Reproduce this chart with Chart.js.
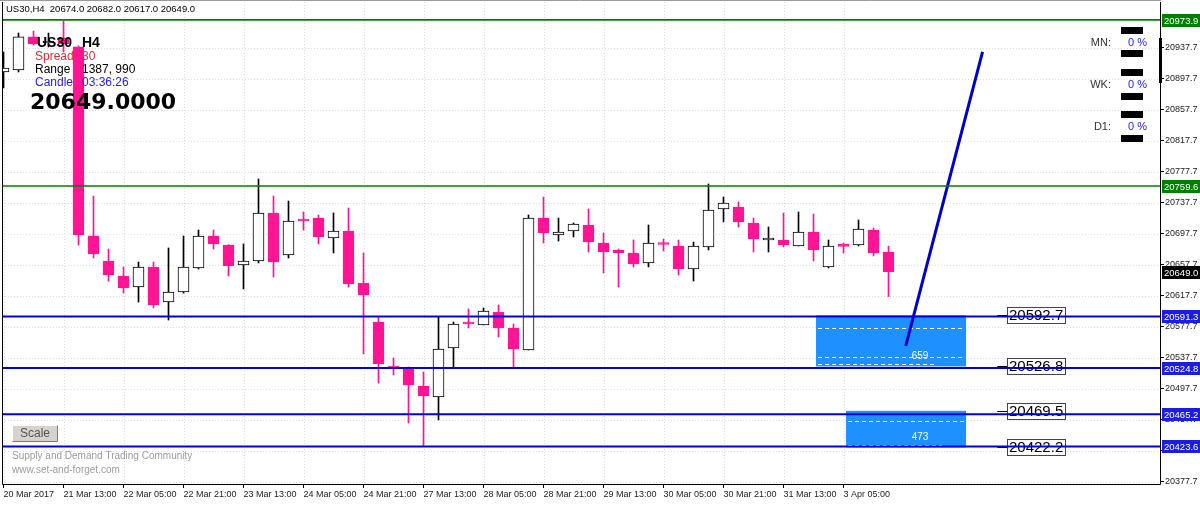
<!DOCTYPE html>
<html>
<head>
<meta charset="utf-8">
<title>US30 H4</title>
<script src="https://cdn.jsdelivr.net/npm/chart.js@4.4.0/dist/chart.umd.min.js"></script>
<style>
    html, body { margin: 0; padding: 0; background: #fff; overflow: hidden; }
    #wrap { position: relative; width: 1200px; height: 505px; }
</style>
</head>
<body>
<div id="wrap"><canvas id="chart"></canvas></div>
<script>
// H4 candles, one entry per bar
const opens = [20906.7, 20909.3, 20951.9, 20944.1, 20950.6, 20939.0, 20695.1, 20662.8, 20643.5, 20629.3,
    20655.1, 20609.9, 20622.8, 20653.8, 20695.1, 20683.5, 20657.7, 20662.8, 20724.8, 20670.6,
    20717.0, 20718.3, 20692.5, 20701.5, 20634.4, 20584.1, 20527.4, 20523.5, 20501.5, 20487.3,
    20550.6, 20584.1, 20580.3, 20597.0, 20576.4, 20548.0, 20718.3, 20696.4, 20701.5, 20709.3,
    20686.1, 20677.0, 20673.2, 20660.3, 20685.4, 20682.2, 20652.5, 20680.9, 20729.9, 20732.5,
    20711.9, 20689.9, 20689.9, 20682.2, 20700.3, 20655.1, 20682.8, 20683.5, 20702.8, 20674.0];
const highs = [20932.5, 20957.0, 20959.6, 20957.0, 20972.5, 20940.5, 20746.7, 20678.3, 20655.1, 20661.5,
    20661.5, 20679.6, 20695.1, 20702.8, 20702.8, 20684.0, 20684.8, 20768.6, 20746.7, 20740.2,
    20726.1, 20722.2, 20724.8, 20731.2, 20673.2, 20590.6, 20537.7, 20526.1, 20519.6, 20590.6,
    20584.1, 20600.9, 20602.2, 20606.1, 20581.5, 20722.2, 20745.4, 20718.3, 20711.9, 20729.9,
    20699.0, 20678.3, 20689.9, 20709.3, 20691.2, 20689.9, 20687.3, 20762.2, 20745.4, 20739.0,
    20718.3, 20706.7, 20724.8, 20726.1, 20723.5, 20689.9, 20686.1, 20715.7, 20705.4, 20682.0];
const lows = [20886.1, 20906.7, 20941.5, 20939.0, 20932.5, 20683.5, 20666.7, 20637.0, 20621.5, 20609.9,
    20602.2, 20586.7, 20621.5, 20652.5, 20678.3, 20643.5, 20626.7, 20660.3, 20642.2, 20666.7,
    20702.8, 20684.8, 20673.2, 20629.3, 20542.8, 20505.4, 20515.7, 20453.8, 20424.1, 20457.7,
    20524.8, 20576.4, 20580.3, 20564.8, 20524.8, 20548.0, 20686.1, 20688.6, 20693.8, 20674.4,
    20647.3, 20629.3, 20655.1, 20655.1, 20675.7, 20644.8, 20637.0, 20677.0, 20713.2, 20706.7,
    20674.4, 20674.4, 20680.9, 20682.2, 20662.8, 20653.8, 20673.2, 20682.2, 20669.3, 20617.0];
const closes = [20911.9, 20951.9, 20942.8, 20944.1, 20942.8, 20696.4, 20671.9, 20644.8, 20628.0, 20655.1,
    20606.1, 20622.8, 20655.1, 20695.1, 20684.8, 20656.4, 20662.8, 20724.8, 20661.5, 20714.4,
    20714.4, 20693.8, 20701.5, 20633.2, 20619.0, 20529.9, 20524.8, 20502.8, 20488.6, 20549.3,
    20581.5, 20581.5, 20598.3, 20576.4, 20549.3, 20718.3, 20699.0, 20700.3, 20710.6, 20687.3,
    20674.4, 20673.2, 20659.0, 20686.1, 20684.1, 20652.5, 20682.2, 20728.6, 20737.7, 20713.2,
    20691.2, 20689.9, 20683.5, 20700.3, 20677.0, 20682.2, 20681.6, 20704.1, 20673.2, 20649.0];

// axis labels (one time label every 4 bars)
const xTickLabels = ['20 Mar 2017', '21 Mar 13:00', '22 Mar 05:00', '22 Mar 21:00', '23 Mar 13:00',
    '24 Mar 05:00', '24 Mar 21:00', '27 Mar 13:00', '28 Mar 05:00', '28 Mar 21:00',
    '29 Mar 13:00', '30 Mar 05:00', '30 Mar 21:00', '31 Mar 13:00', '3 Apr 05:00'];
const yTickValues = [20377.7, 20417.7, 20457.7, 20497.7, 20537.7, 20577.7, 20617.7, 20657.7,
    20697.7, 20737.7, 20777.7, 20817.7, 20857.7, 20897.7, 20937.7];

// horizontal levels and zones
const greenLevels = [20973.9, 20759.6];
const blueLevels = [20591.3, 20524.8, 20465.2, 20423.6];
const zoneLabels = [20592.7, 20526.8, 20469.5, 20422.2];
const zoneMidLines = [20576.4, 20539.6, 20456.9];
const zoneSizes = ['659', '473'];

// projected move
const trendX = [60.15, 65.27];
const trendY = [20553.2, 20932.5];

const PINK = '#ff1493';
const idx = opens.map((_, i) => i);
const bull = idx.map(i => closes[i] >= opens[i]);

Chart.defaults.font.family = "'Liberation Sans', Arial, sans-serif";
Chart.defaults.font.size = 9;

function hline(ctx, x1, x2, yy) {
    ctx.beginPath();
    ctx.moveTo(x1, yy);
    ctx.lineTo(x2, yy);
    ctx.stroke();
}

const overlay = {
    id: 'overlay',
    beforeDatasetsDraw(chart) {
        const { ctx, chartArea: a, scales: { x, y } } = chart;
        ctx.save();
        // dotted grid
        ctx.strokeStyle = '#dedede';
        ctx.lineWidth = 1;
        ctx.setLineDash([1, 2]);
        x.ticks.forEach(t => {
            const px = Math.round(x.getPixelForValue(t.value)) + 0.5;
            ctx.beginPath(); ctx.moveTo(px, a.top); ctx.lineTo(px, a.bottom); ctx.stroke();
        });
        y.ticks.forEach(t => {
            hline(ctx, a.left, a.right, Math.round(y.getPixelForValue(t.value)) + 0.5);
        });
        ctx.setLineDash([]);

        // demand zones
        const zones = [
            { from: 54.17, to: 64.17, top: zoneLabels[0], bottom: zoneLabels[1], mids: [zoneMidLines[0], zoneMidLines[1]], text: zoneSizes[0] },
            { from: 56.17, to: 64.17, top: zoneLabels[2], bottom: zoneLabels[3], mids: [zoneMidLines[2]], text: zoneSizes[1] }
        ];
        zones.forEach(z => {
            const x1 = x.getPixelForValue(z.from), x2 = x.getPixelForValue(z.to);
            const y1 = y.getPixelForValue(z.top), y2 = y.getPixelForValue(z.bottom);
            ctx.fillStyle = '#1e90ff';
            ctx.fillRect(x1, y1, x2 - x1, y2 - y1);
            ctx.strokeStyle = '#ffffff';
            ctx.setLineDash([4, 3]);
            z.mids.forEach(m => hline(ctx, x1 + 2, x2 - 2, Math.round(y.getPixelForValue(m)) + 0.5));
            hline(ctx, x1 + 2, x1 + (x2 - x1) * 0.8, Math.round(y2) - 1.5);
            ctx.setLineDash([]);
            ctx.fillStyle = '#ffffff';
            ctx.font = "10px 'Liberation Sans', Arial";
            ctx.textAlign = 'center';
            ctx.textBaseline = 'middle';
            ctx.fillText(z.text, x.getPixelForValue(61.1), y2 - 10);
        });
        ctx.restore();
    },
    afterDatasetsDraw(chart) {
        const { ctx, chartArea: a, scales: { x, y } } = chart;
        ctx.save();

        // boxed price labels of the zones
        ctx.font = "15px 'Liberation Sans', Arial";
        ctx.textAlign = 'left';
        ctx.textBaseline = 'middle';
        zoneLabels.forEach(v => {
            const py = Math.round(y.getPixelForValue(v));
            const bx = Math.round(x.getPixelForValue(66.9));
            const text = v.toFixed(1);
            const w = Math.round(ctx.measureText(text).width) + 4;
            ctx.strokeStyle = '#000';
            ctx.lineWidth = 1;
            hline(ctx, x.getPixelForValue(66.25), bx, py + 0.5);
            ctx.fillStyle = '#fff';
            ctx.fillRect(bx, py - 8, w, 16);
            ctx.strokeStyle = '#444';
            ctx.strokeRect(bx + 0.5, py - 7.5, w, 16);
            ctx.fillStyle = '#000';
            ctx.fillText(text, bx + 2, py + 1);
        });

        // horizontal levels
        ctx.lineWidth = 1.6;
        ctx.strokeStyle = '#008000';
        greenLevels.forEach(v => hline(ctx, a.left, a.right, y.getPixelForValue(v)));
        ctx.lineWidth = 2;
        ctx.strokeStyle = '#0000e0';
        blueLevels.forEach(v => hline(ctx, a.left, a.right, y.getPixelForValue(v)));

        // header line
        ctx.fillStyle = '#000';
        ctx.font = "9.5px 'Liberation Sans', Arial";
        ctx.textBaseline = 'middle';
        const last = opens.length - 1;
        ctx.fillText('US30,H4  ' + [opens[last], highs[last], lows[last], closes[last]].map(v => v.toFixed(1)).join(' '), a.left + 4, a.top + 7);

        // info block
        ctx.font = "bold 14px 'Liberation Sans', Arial";
        ctx.fillText('US30', 37, 43);
        ctx.fillText('H4', 82, 43);
        ctx.font = "12px 'Liberation Sans', Arial";
        ctx.fillStyle = '#e8282f';
        ctx.fillText('Spread', 35, 57);
        ctx.fillText('30', 82, 57);
        ctx.fillStyle = '#000';
        ctx.fillText('Range', 35, 70);
        ctx.fillText('1387, 990', 82, 70);
        ctx.fillStyle = '#2323e8';
        ctx.fillText('Candle', 35, 83);
        ctx.fillText('03:36:26', 82, 83);
        ctx.fillStyle = '#000';
        ctx.font = "bold 22px 'DejaVu Sans', sans-serif";
        ctx.fillText(closes[last].toFixed(4), 30, 103);

        // Scale button
        ctx.fillStyle = '#d6d3ce';
        ctx.fillRect(12, 425, 46, 17);
        ctx.strokeStyle = '#ffffff';
        ctx.lineWidth = 1;
        ctx.beginPath(); ctx.moveTo(12.5, 441.5); ctx.lineTo(12.5, 425.5); ctx.lineTo(57.5, 425.5); ctx.stroke();
        ctx.strokeStyle = '#7a7a7a';
        ctx.beginPath(); ctx.moveTo(57.5, 425.5); ctx.lineTo(57.5, 441.5); ctx.lineTo(12.5, 441.5); ctx.stroke();
        ctx.fillStyle = '#555';
        ctx.font = "12px 'Liberation Sans', Arial";
        ctx.textAlign = 'center';
        ctx.fillText('Scale', 35, 434);

        // watermark
        ctx.textAlign = 'left';
        ctx.fillStyle = '#9c9c9c';
        ctx.font = "10px 'Liberation Sans', Arial";
        ctx.fillText('Supply and Demand Trading Community', 12, 456);
        ctx.fillText('www.set-and-forget.com', 12, 470);

        // MN / WK / D1 panel
        const px = a.right;
        ctx.fillStyle = '#000';
        [27, 50, 69, 93, 111, 135].forEach(top => ctx.fillRect(px - 39, top, 22, 7));
        [['MN:', 43], ['WK:', 85], ['D1:', 127]].forEach(([t, ty]) => {
            ctx.fillStyle = '#333';
            ctx.font = "11px 'Liberation Sans', Arial";
            ctx.textAlign = 'right';
            ctx.fillText(t, px - 49, ty);
            ctx.fillStyle = '#2323e8';
            ctx.textAlign = 'left';
            ctx.fillText('0 %', px - 32, ty);
        });
        ctx.restore();
    },
    afterDraw(chart) {
        const { ctx, chartArea: a, scales: { y } } = chart;
        ctx.save();
        // frame
        ctx.strokeStyle = '#000';
        ctx.lineWidth = 1;
        ctx.beginPath();
        ctx.moveTo(a.left + 0.5, a.top);
        ctx.lineTo(a.left + 0.5, a.bottom + 0.5);
        ctx.lineTo(a.right + 0.5, a.bottom + 0.5);
        ctx.lineTo(a.right + 0.5, a.top);
        ctx.stroke();
        ctx.strokeStyle = '#9a9a9a';
        hline(ctx, 0, a.right + 1, 0.5);
        ctx.fillStyle = '#000';
        ctx.fillRect(a.right - 1, 38, 3, 45);

        // right-axis level tags
        ctx.font = "9.5px 'Liberation Sans', Arial";
        ctx.textBaseline = 'middle';
        ctx.textAlign = 'left';
        const tag = (v, bg) => {
            const py = Math.round(y.getPixelForValue(v));
            ctx.fillStyle = bg;
            ctx.fillRect(a.right + 2, py - 6, 38, 13);
            ctx.fillStyle = '#fff';
            ctx.fillText(v.toFixed(1), a.right + 4, py + 1);
        };
        greenLevels.forEach(v => tag(v, '#008000'));
        blueLevels.forEach(v => tag(v, '#1c1ce6'));
        tag(closes[closes.length - 1], '#000');
        ctx.restore();
    }
};

new Chart(document.getElementById('chart'), {
    type: 'bar',
    data: {
        datasets: [
            {
                label: 'body',
                data: idx.map(i => ({ x: i, y: [opens[i], closes[i]] })),
                backgroundColor: idx.map(i => bull[i] ? '#ffffff' : PINK),
                borderColor: idx.map(i => bull[i] ? '#000000' : PINK),
                borderWidth: 1,
                borderSkipped: false,
                barThickness: 11,
                minBarLength: 2,
                grouped: false,
                order: 1
            },
            {
                label: 'wick',
                data: idx.map(i => ({ x: i, y: [lows[i], highs[i]] })),
                backgroundColor: idx.map(i => bull[i] ? '#000000' : PINK),
                borderWidth: 0,
                barThickness: 1,
                grouped: false,
                order: 2
            },
            {
                type: 'line',
                label: 'projection',
                data: trendX.map((v, i) => ({ x: v, y: trendY[i] })),
                borderColor: '#0000cc',
                borderWidth: 3,
                pointRadius: 0,
                order: 0
            }
        ]
    },
    options: {
        responsive: true,
        maintainAspectRatio: false,
        animation: false,
        layout: { padding: { left: 2, top: 2, right: 0, bottom: 0 } },
        plugins: {
            legend: { display: false },
            tooltip: { enabled: false }
        },
        scales: {
            x: {
                type: 'linear',
                position: 'bottom',
                offset: false,
                min: -0.1,
                max: 77.1,
                afterBuildTicks: s => { s.ticks = xTickLabels.map((_, k) => ({ value: k * 4 })); },
                afterFit: s => { s.height = 21; s.paddingLeft = 0; s.paddingRight = 0; },
                ticks: {
                    autoSkip: false,
                    maxRotation: 0,
                    align: 'start',
                    padding: 1,
                    color: '#222',
                    callback: v => xTickLabels[Math.round(v / 4)]
                },
                grid: { offset: false, drawOnChartArea: false, drawTicks: true, tickLength: 4, tickColor: '#000' },
                border: { display: false }
            },
            y: {
                type: 'linear',
                position: 'right',
                min: 20375.1,
                max: 20997.0,
                afterBuildTicks: s => { s.ticks = yTickValues.map(v => ({ value: v })); },
                afterFit: s => { s.width = 40; s.paddingTop = 0; s.paddingBottom = 0; },
                ticks: {
                    padding: 1,
                    color: '#222',
                    callback: v => v.toFixed(1)
                },
                grid: { drawOnChartArea: false, drawTicks: true, tickLength: 4, tickColor: '#000' },
                border: { display: false }
            }
        }
    },
    plugins: [overlay]
});
</script>
</body>
</html>
